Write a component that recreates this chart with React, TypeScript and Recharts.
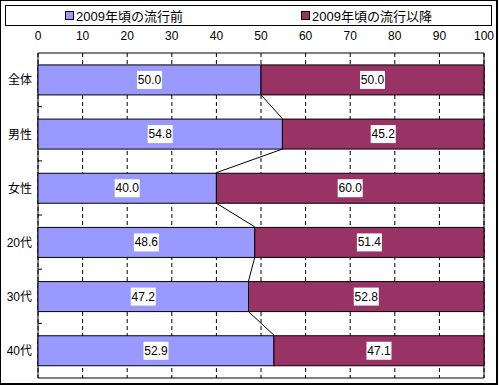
import React from 'react'
import { BarChart, Bar, XAxis, YAxis, CartesianGrid, Legend, LabelList, ReferenceArea } from 'recharts'

const categories = ['全体', '男性', '女性', '20代', '30代', '40代']
const beforeValues = [50.0, 54.8, 40.0, 48.6, 47.2, 52.9]
const afterValues = [50.0, 45.2, 60.0, 51.4, 52.8, 47.1]
const xTicks = [0, 10, 20, 30, 40, 50, 60, 70, 80, 90, 100]
const seriesNames = ['2009年頃の流行前', '2009年頃の流行以降']
const seriesColors = ['#9999FF', '#993366']

const GAP = 0.22
const FONT = '"Liberation Sans", "Noto Sans CJK JP", sans-serif'

const chartData = categories.map((name, i) => ({
  name,
  before: beforeValues[i],
  after: afterValues[i],
}))

// 前半の棒に系列線と左側の目盛りを一緒に描く
const BeforeShape = (props: any) => {
  const { x, y, width, height, index, fill } = props
  const unit = width / beforeValues[index]
  const step = height / (1 - 2 * GAP)
  const next = beforeValues[index + 1]
  const tickY = y + height + (step - height) / 2
  return (
    <g>
      <rect x={x} y={y} width={width} height={height} fill={fill} stroke="#000" strokeWidth={1} />
      {next !== undefined && (
        <>
          <line x1={x + width} y1={y + height} x2={x + next * unit} y2={y + step} stroke="#000" strokeWidth={1} />
          <line x1={x} y1={tickY} x2={x + 4} y2={tickY} stroke="#000" strokeWidth={1} />
        </>
      )}
    </g>
  )
}

const ValueLabel = (props: any) => {
  const { x, y, width, height, value } = props
  const text = Number(value).toFixed(1)
  const cx = x + width / 2
  const cy = y + height / 2
  const w = 25
  const h = 18
  return (
    <g>
      <rect x={cx - w / 2} y={cy - h / 2} width={w} height={h} fill="#fff" />
      <text x={cx} y={cy} textAnchor="middle" dominantBaseline="central" fontSize={12} fontFamily={FONT} fill="#000">
        {text}
      </text>
    </g>
  )
}

const LegendBox = () => (
  <div
    style={{
      boxSizing: 'border-box',
      width: 487,
      height: 21,
      border: '1px solid #000',
      background: '#fff',
      display: 'flex',
      justifyContent: 'space-around',
      alignItems: 'center',
      fontFamily: FONT,
      fontSize: 13,
      color: '#000',
    }}
  >
    {seriesNames.map((n, i) => (
      <span key={n} style={{ display: 'flex', alignItems: 'center' }}>
        <span
          style={{
            display: 'inline-block',
            width: 7,
            height: 7,
            background: seriesColors[i],
            border: '1px solid #000',
            marginRight: 2,
          }}
        />
        {n}
      </span>
    ))}
  </div>
)

export default function App() {
  return (
    <div style={{ position: 'absolute', left: 0, top: 0, width: 500, height: 385, background: '#fff' }}>
      <BarChart
        width={497}
        height={384}
        data={chartData}
        layout="vertical"
        barCategoryGap={`${GAP * 100}%`}
        margin={{ top: 12, right: 13, bottom: 6, left: 0 }}
      >
        <CartesianGrid horizontal={false} stroke="#000" strokeDasharray="4 3" />
        <XAxis
          type="number"
          orientation="top"
          domain={[0, 100]}
          ticks={xTicks}
          interval={0}
          axisLine={false}
          tickLine={false}
          tickSize={0}
          tickMargin={13}
          height={20}
          tick={{ fontSize: 12, fontFamily: FONT, fill: '#000' }}
        />
        <YAxis
          type="category"
          dataKey="name"
          width={38}
          axisLine={false}
          tickLine={false}
          tickSize={0}
          tickMargin={6}
          tick={{ fontSize: 12, fontFamily: FONT, fill: '#000' }}
        />
        <Legend
          verticalAlign="top"
          content={() => <LegendBox />}
          wrapperStyle={{ top: 5, left: 5, width: 487 }}
        />
        <Bar dataKey="before" stackId="a" fill={seriesColors[0]} name={seriesNames[0]} shape={BeforeShape} isAnimationActive={false}>
          <LabelList dataKey="before" content={ValueLabel} />
        </Bar>
        <Bar dataKey="after" stackId="a" fill={seriesColors[1]} stroke="#000" strokeWidth={1} name={seriesNames[1]} isAnimationActive={false}>
          <LabelList dataKey="after" content={ValueLabel} />
        </Bar>
        <ReferenceArea x1={0} x2={100} fill="none" stroke="#000" strokeWidth={1} ifOverflow="visible" />
      </BarChart>
      <div
        style={{
          position: 'absolute',
          left: 0,
          top: 0,
          width: 498,
          height: 385,
          boxSizing: 'border-box',
          borderLeft: '1px solid #000',
          borderTop: '1px solid #000',
          borderRight: '2px solid #000',
          borderBottom: '2px solid #000',
          pointerEvents: 'none',
        }}
      />
    </div>
  )
}
